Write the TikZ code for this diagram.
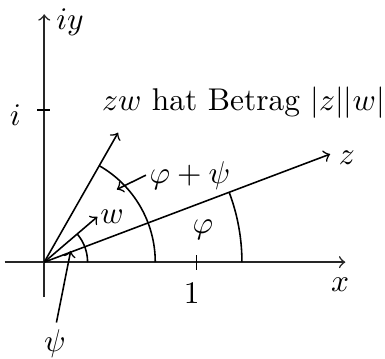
\documentclass[tikz,border=0pt]{standalone}
\begin{document}
\begin{tikzpicture}[x=1.7cm,y=1.7cm,
  axis/.style={->,line width=0.5pt,black!85},
  vec/.style={->,line width=0.5pt},
  arcline/.style={line width=0.5pt},
  lbl/.style={inner sep=0pt}]
\useasboundingbox (-0.291,-0.632) rectangle (2.241,1.724);
\coordinate (O) at (0,0);
\coordinate (XL) at (-0.26,0);
\coordinate (XR) at (1.98,0);
\coordinate (YB) at (0,-0.23);
\coordinate (YT) at (0,1.63);
\draw[axis] (XL) -- (XR);
\draw[axis] (YB) -- (YT);
% ticks
\coordinate (T1a) at (1,-0.05);
\coordinate (T1b) at (1,0.05);
\coordinate (Tia) at (-0.045,1);
\coordinate (Tib) at (0.035,1);
\draw[arcline] (T1a) -- (T1b);
\draw[arcline] (Tia) -- (Tib);
% axis labels
\node[lbl] (lx) at (1.945,-0.15) {$x$};
\node[lbl] (liy) at (0.17,1.58) {$iy$};
\node[lbl] (li) at (-0.19,0.97) {$i$};
\node[lbl] (l1) at (0.97,-0.205) {$1$};
% vectors
\coordinate (Z) at (20.7:2.01);
\coordinate (W) at (40.5:0.46);
\coordinate (ZW) at (60.3:0.98);
\draw[vec] (O) -- (Z);
\draw[vec] (O) -- (W);
\draw[vec] (O) -- (ZW);
\node[lbl] (lz) at (1.99,0.685) {$z$};
\node[lbl] (lw) at (0.446,0.30) {$w$};
\node[lbl] (lzw) at (1.31,1.05) {$zw$ hat Betrag $|z||w|$};
% arcs
\draw[arcline] (1.30,0) arc[start angle=0,end angle=20.7,radius=1.30];
\draw[arcline] (0.73,0) arc[start angle=0,end angle=60.3,radius=0.73];
\draw[arcline] (0.285,0) arc[start angle=0,end angle=40.5,radius=0.285];
% angle labels
\node[lbl] (lphi) at (1.044,0.21) {$\varphi$};
\node[lbl] (lphipsi) at (0.958,0.572) {$\varphi+\psi$};
\node[lbl] (lpsi) at (0.07,-0.533) {$\psi$};
\coordinate (App) at (0.477,0.478);
\coordinate (Aps) at (0.174,0.074);
\draw[vec] (lphipsi.west) ++(-0.02,0) -- (App);
\draw[vec] (lpsi.north) ++(0.01,0.04) -- (Aps);
\end{tikzpicture}
\end{document}
